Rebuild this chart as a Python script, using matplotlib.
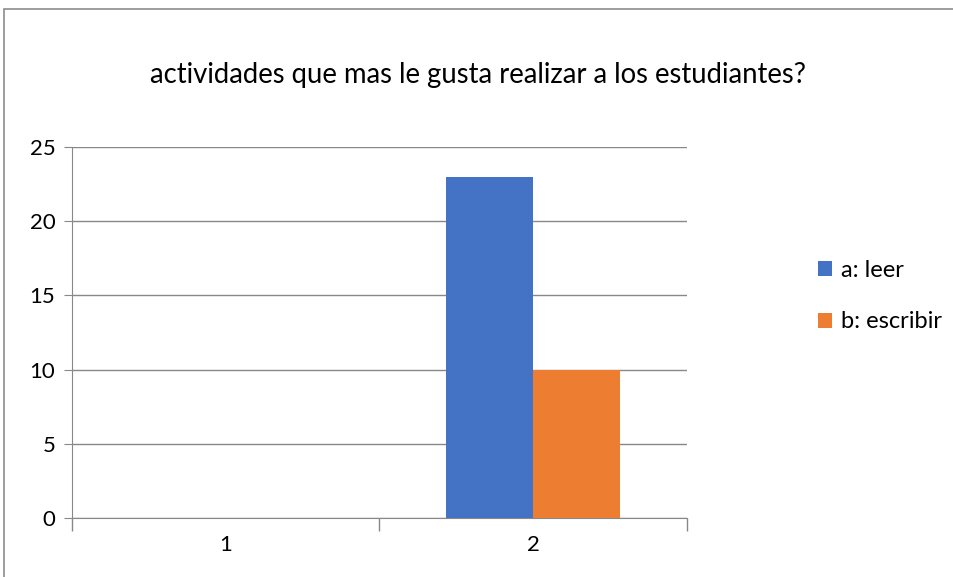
import matplotlib.pyplot as plt
from matplotlib.patches import Rectangle
import numpy as np

categories = ['1', '2']
series_names = ['a: leer', 'b: escribir']
leer = [0, 23]
escribir = [0, 10]
colors = ['#4472C4', '#ED7D31']

plt.rcParams['font.family'] = ['Lato', 'DejaVu Sans']

fig = plt.figure(figsize=(9.54, 5.77), dpi=100)
ax = fig.add_axes([72/954, 1-518/577, 615/954, 371/577])

x = np.arange(1, len(categories)+1)
w = 0.283
ax.bar(x - w/2, leer, w, color=colors[0], label=series_names[0], zorder=3)
ax.bar(x + w/2, escribir, w, color=colors[1], label=series_names[1], zorder=3)

ax.set_xlim(0.5, 2.5)
ax.set_ylim(0, 25)
ax.set_yticks(range(0, 26, 5))
ax.set_xticks(x)
ax.set_xticklabels(categories)
ax.xaxis.set_minor_locator(plt.FixedLocator([0.5, 1.5, 2.5]))
ax.tick_params(axis='x', which='major', length=0, labelsize=16, pad=12)
ax.tick_params(axis='x', which='minor', length=9, color='#888888', width=1)
ax.tick_params(axis='y', length=6, color='#888888', labelsize=16, pad=6)
ax.grid(axis='y', color='#888888', linewidth=1, zorder=0)
for s in ['top', 'right']:
    ax.spines[s].set_visible(False)
ax.spines['left'].set_color('#888888')
ax.spines['bottom'].set_color('#888888')

fig.text(478/954, 1-75/577, 'actividades que mas le gusta realizar a los estudiantes?',
         ha='center', va='center', fontsize=19.8)

fig.legend(loc='center left', bbox_to_anchor=(797/954, 1-296/577), frameon=False,
           fontsize=17, handlelength=0.6, handleheight=0.6, handletextpad=0.35,
           labelspacing=1.3)

fig.patches.append(Rectangle((4/954, -0.5), 2, 1.5-9/577, transform=fig.transFigure,
                             fill=False, edgecolor='#8c8c8c', linewidth=1.2))

fig.savefig('out.png', dpi=100)
